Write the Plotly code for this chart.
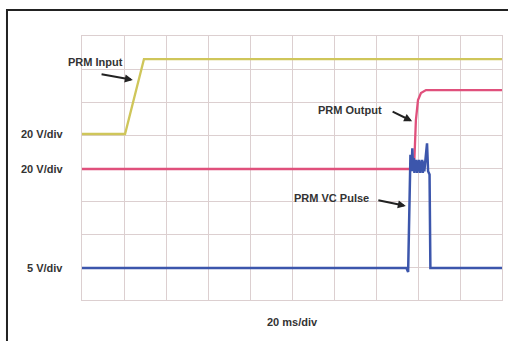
import plotly.graph_objects as go

# Time axis in ms (20 ms/div, 10 divisions); vertical in screen divisions (8 divisions)
input_t = [0, 20.5, 29.5, 200]
input_v = [5.03, 5.03, 7.30, 7.30]

output_t = [0, 158.1, 159.0, 160.0, 161.4, 163.8, 200]
output_v = [3.97, 3.97, 5.45, 6.06, 6.27, 6.36, 6.36]

pulse_t = [0, 154.5, 155.3, 155.8, 156.4, 156.9, 157.3, 157.7, 158.0, 158.3, 158.6, 159.0,
           159.3, 159.6, 160.0, 160.3, 160.6, 161.0, 161.3, 161.6, 162.0, 162.3, 162.6,
           163.0, 163.3, 163.8, 164.3, 164.8, 165.5, 165.9, 200]
pulse_v = [0.97, 0.97, 0.85, 2.5, 4.4, 3.9, 4.6, 3.9, 4.3, 3.85, 4.25, 3.9,
           4.25, 3.85, 4.2, 3.9, 4.25, 3.85, 4.2, 3.9, 4.25, 3.85, 4.2,
           3.9, 4.1, 4.55, 4.75, 3.9, 3.8, 0.97, 0.97]

channel_labels = ["20 V/div", "20 V/div", "5 V/div"]
channel_levels = [5.03, 3.97, 0.97]
channel_colors = ["#cfc65a", "#e0507c", "#3c56ac"]
time_label = "20 ms/div"
trigger_t = [20.5]

fig = go.Figure()
fig.add_trace(go.Scatter(x=input_t, y=input_v, mode="lines",
                         line=dict(color=channel_colors[0], width=2.3), hoverinfo="skip"))
fig.add_trace(go.Scatter(x=output_t, y=output_v, mode="lines",
                         line=dict(color=channel_colors[1], width=2.3), hoverinfo="skip"))
fig.add_trace(go.Scatter(x=pulse_t, y=pulse_v, mode="lines",
                         line=dict(color=channel_colors[2], width=2.5), hoverinfo="skip"))
fig.add_trace(go.Scatter(x=[-2.2] * 3, y=channel_levels, mode="markers",
                         marker=dict(symbol="line-ew", size=5,
                                     line=dict(width=2, color=channel_colors), opacity=0.45),
                         cliponaxis=False, hoverinfo="skip"))
fig.add_trace(go.Scatter(x=trigger_t, y=[-0.15], mode="markers",
                         marker=dict(symbol="line-ns", size=6,
                                     line=dict(width=1.5, color="#999999")),
                         cliponaxis=False, hoverinfo="skip"))

font = dict(family="Liberation Sans, Arial, sans-serif", size=11, color="#333333")
bold = lambda s: "<b>" + s + "</b>"

ann = []
for lab, lev in zip(channel_labels, channel_levels):
    ann.append(dict(x=-0.04, y=lev, xref="paper", yref="y", text=bold(lab), showarrow=False,
                    xanchor="right", yanchor="middle", font=font))
ann.append(dict(x=100.4, y=-0.083, xref="x", yref="paper", text=bold(time_label),
                showarrow=False, font=font, yanchor="middle"))

labels = [
    ("PRM Input", 6.6, 7.21, 8.6, 6.85, 24.2, 6.67),
    ("PRM Output", 127.6, 5.76, 147.2, 5.73, 157.2, 5.42),
    ("PRM VC Pulse", 118.6, 3.09, 140.4, 3.03, 154.2, 2.85),
]
for txt, tx, ty, axx, ayy, hx, hy in labels:
    ann.append(dict(x=tx, y=ty, xref="x", yref="y", text=bold(txt), showarrow=False, font=font))
    ann.append(dict(x=hx, y=hy, xref="x", yref="y", ax=axx, ay=ayy, axref="x", ayref="y",
                    text="", showarrow=True, arrowhead=2, arrowsize=0.8, arrowwidth=2,
                    arrowcolor="#222222"))

grid = "#dccfd0"
fig.update_layout(
    width=508, height=341,
    margin=dict(l=82, r=6, t=36, b=41),
    paper_bgcolor="white", plot_bgcolor="white",
    showlegend=False,
    hovermode=False,
    annotations=ann,
    xaxis=dict(range=[0, 200], dtick=20, showgrid=True, gridcolor=grid, gridwidth=1,
               showticklabels=False, zeroline=False, showline=True, linecolor=grid,
               mirror=True, ticks=""),
    yaxis=dict(range=[0, 8], dtick=1, showgrid=True, gridcolor=grid, gridwidth=1,
               showticklabels=False, zeroline=False, showline=True, linecolor=grid,
               mirror=True, ticks=""),
    shapes=[dict(type="path", xref="paper", yref="paper",
                 path="M -0.1786,-0.2 L -0.1786,1.0985 L 1.05,1.0985",
                 line=dict(color="#222222", width=2), layer="above")],
)

fig.write_html(
    "out.html",
    config={"displayModeBar": False},
    post_script="document.body.style.margin='0';document.body.style.overflow='hidden';",
)
